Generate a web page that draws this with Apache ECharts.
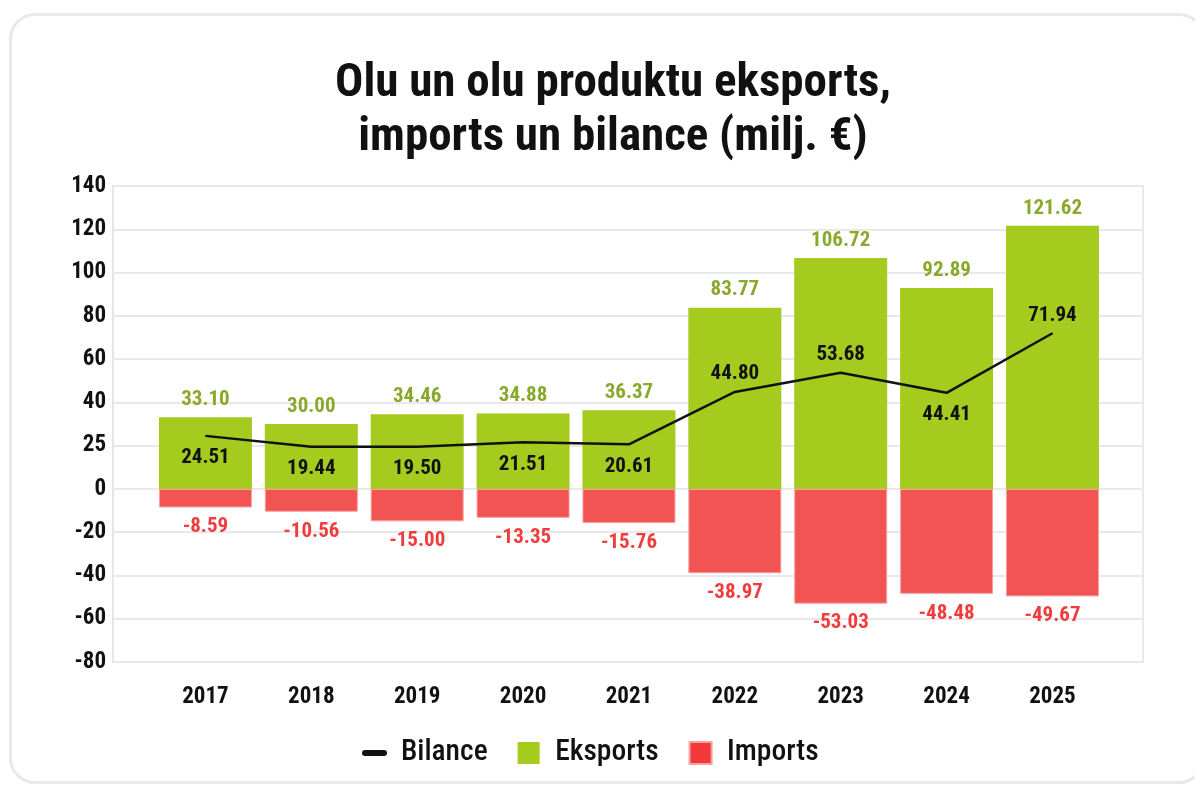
<!DOCTYPE html>
<html>
<head>
<meta charset="utf-8">
<script src="https://cdn.jsdelivr.net/npm/echarts@6/dist/echarts.min.js"></script>
<style>
  html, body { margin: 0; padding: 0; background: #fff; }
  #card {
    position: absolute; left: 9px; top: 13px; width: 1196px; height: 771px;
    border: 3px solid #e9e9e9; border-radius: 26px; box-sizing: border-box;
  }
  #chart { position: absolute; left: 0; top: 0; width: 1195px; height: 788px; }
</style>
</head>
<body>
<div id="card"></div>
<div id="chart"></div>
<script>
const years = ['2017', '2018', '2019', '2020', '2021', '2022', '2023', '2024', '2025'];
const eksports = [33.10, 30.00, 34.46, 34.88, 36.37, 83.77, 106.72, 92.89, 121.62];
const imports = [-8.59, -10.56, -15.00, -13.35, -15.76, -38.97, -53.03, -48.48, -49.67];
const bilance = [24.51, 19.44, 19.50, 21.51, 20.61, 44.80, 53.68, 44.41, 71.94];
// where each balance label sits relative to its point
const bilanceLabelPos = ['bottom', 'bottom', 'bottom', 'bottom', 'bottom', 'top', 'top', 'bottom', 'top'];
const yTicks = [-80, -60, -40, -20, 0, 20, 40, 60, 80, 100, 120, 140];
const yTickLabels = ['-80', '-60', '-40', '-20', '0', '25', '40', '60', '80', '100', '120', '140'];

const FONT = "'Roboto Condensed', 'Liberation Sans Narrow', 'DejaVu Sans Condensed', Roboto, sans-serif";
const GREEN = '#a5cb1f';
const RED = '#f25353';
const SQUARE = 'path://M0,0 H10 V10 H0 Z';

var chart = echarts.init(document.getElementById('chart'));

var option = {
  animation: false,
  title: {
    text: 'Olu un olu produktu eksports,\nimports un bilance (milj. €)',
    left: 608,
    textAlign: 'center',
    top: 52,
    textStyle: { fontFamily: FONT, fontSize: 47, fontWeight: 'bold', color: '#111', lineHeight: 54 }
  },
  legend: {
    left: 362,
    top: 738,
    padding: 0,
    itemGap: 30,
    itemWidth: 25,
    itemHeight: 22,
    textStyle: { fontFamily: FONT, fontSize: 29.5, fontWeight: 500, color: '#111', padding: [0, 0, 0, 9] },
    data: [
      { name: 'Bilance', icon: 'path://M3,0 H22 A3,3 0 0 1 22,6 H3 A3,3 0 0 1 3,0 Z', itemStyle: { color: '#111' } },
      { name: 'Eksports', icon: SQUARE, itemStyle: { color: GREEN } },
      { name: 'Imports', icon: SQUARE, itemStyle: { color: '#f23838' } }
    ]
  },
  grid: [
    { left: 113, right: 52, top: 186, bottom: 126, show: true, borderColor: '#e9e9e9', borderWidth: 2 },
    { left: 152.5, right: 89.6, top: 186, bottom: 126 }
  ],
  xAxis: [
    { gridIndex: 0, type: 'value', show: false },
    {
      gridIndex: 1, type: 'category', data: years,
      axisLine: { show: false }, axisTick: { show: false },
      axisLabel: { margin: 24, fontFamily: FONT, fontSize: 23, fontWeight: 'bold', color: '#111' }
    }
  ],
  yAxis: [
    {
      gridIndex: 0, type: 'value', min: -80, max: 140, interval: 20,
      axisLine: { show: true, lineStyle: { color: '#e6e6e6', width: 2 } },
      axisTick: { show: false },
      splitLine: { lineStyle: { color: '#e9e9e9', width: 2 } },
      axisLabel: {
        margin: 7, fontFamily: FONT, fontSize: 23, fontWeight: 'bold', color: '#111',
        formatter: function (v) { var i = yTicks.indexOf(v); return i >= 0 ? yTickLabels[i] : ''; }
      }
    },
    { gridIndex: 1, type: 'value', min: -80, max: 140, interval: 20, show: false, splitLine: { show: false } }
  ],
  series: [
    {
      name: 'Eksports', type: 'bar', xAxisIndex: 1, yAxisIndex: 1, stack: 'a',
      barWidth: 93, data: eksports,
      itemStyle: { color: GREEN },
      label: {
        show: true, position: 'top', distance: 7,
        fontFamily: FONT, fontSize: 21, fontWeight: 'bold', color: '#88a92c',
        formatter: function (p) { return p.value.toFixed(2); }
      }
    },
    {
      name: 'Imports', type: 'bar', xAxisIndex: 1, yAxisIndex: 1, stack: 'a',
      barWidth: 93, data: imports,
      itemStyle: { color: RED, borderColor: '#f7a0a0', borderWidth: 1 },
      label: {
        show: true, position: 'bottom', distance: 9,
        fontFamily: FONT, fontSize: 21, fontWeight: 'bold', color: '#f03c3c',
        formatter: function (p) { return p.value.toFixed(2); }
      }
    },
    {
      name: 'Bilance', type: 'line', xAxisIndex: 1, yAxisIndex: 1,
      symbol: 'circle', symbolSize: 1, showSymbol: true, z: 5,
      lineStyle: { color: '#111', width: 2.5 },
      itemStyle: { color: '#111' },
      data: bilance.map(function (v, i) {
        return { value: v, label: { position: bilanceLabelPos[i], distance: bilanceLabelPos[i] === 'top' ? 7 : 11 } };
      }),
      label: {
        show: true, fontFamily: FONT, fontSize: 21, fontWeight: 'bold', color: '#111',
        formatter: function (p) { return p.value.toFixed(2); }
      }
    }
  ]
};

chart.setOption(option);
</script>
</body>
</html>
